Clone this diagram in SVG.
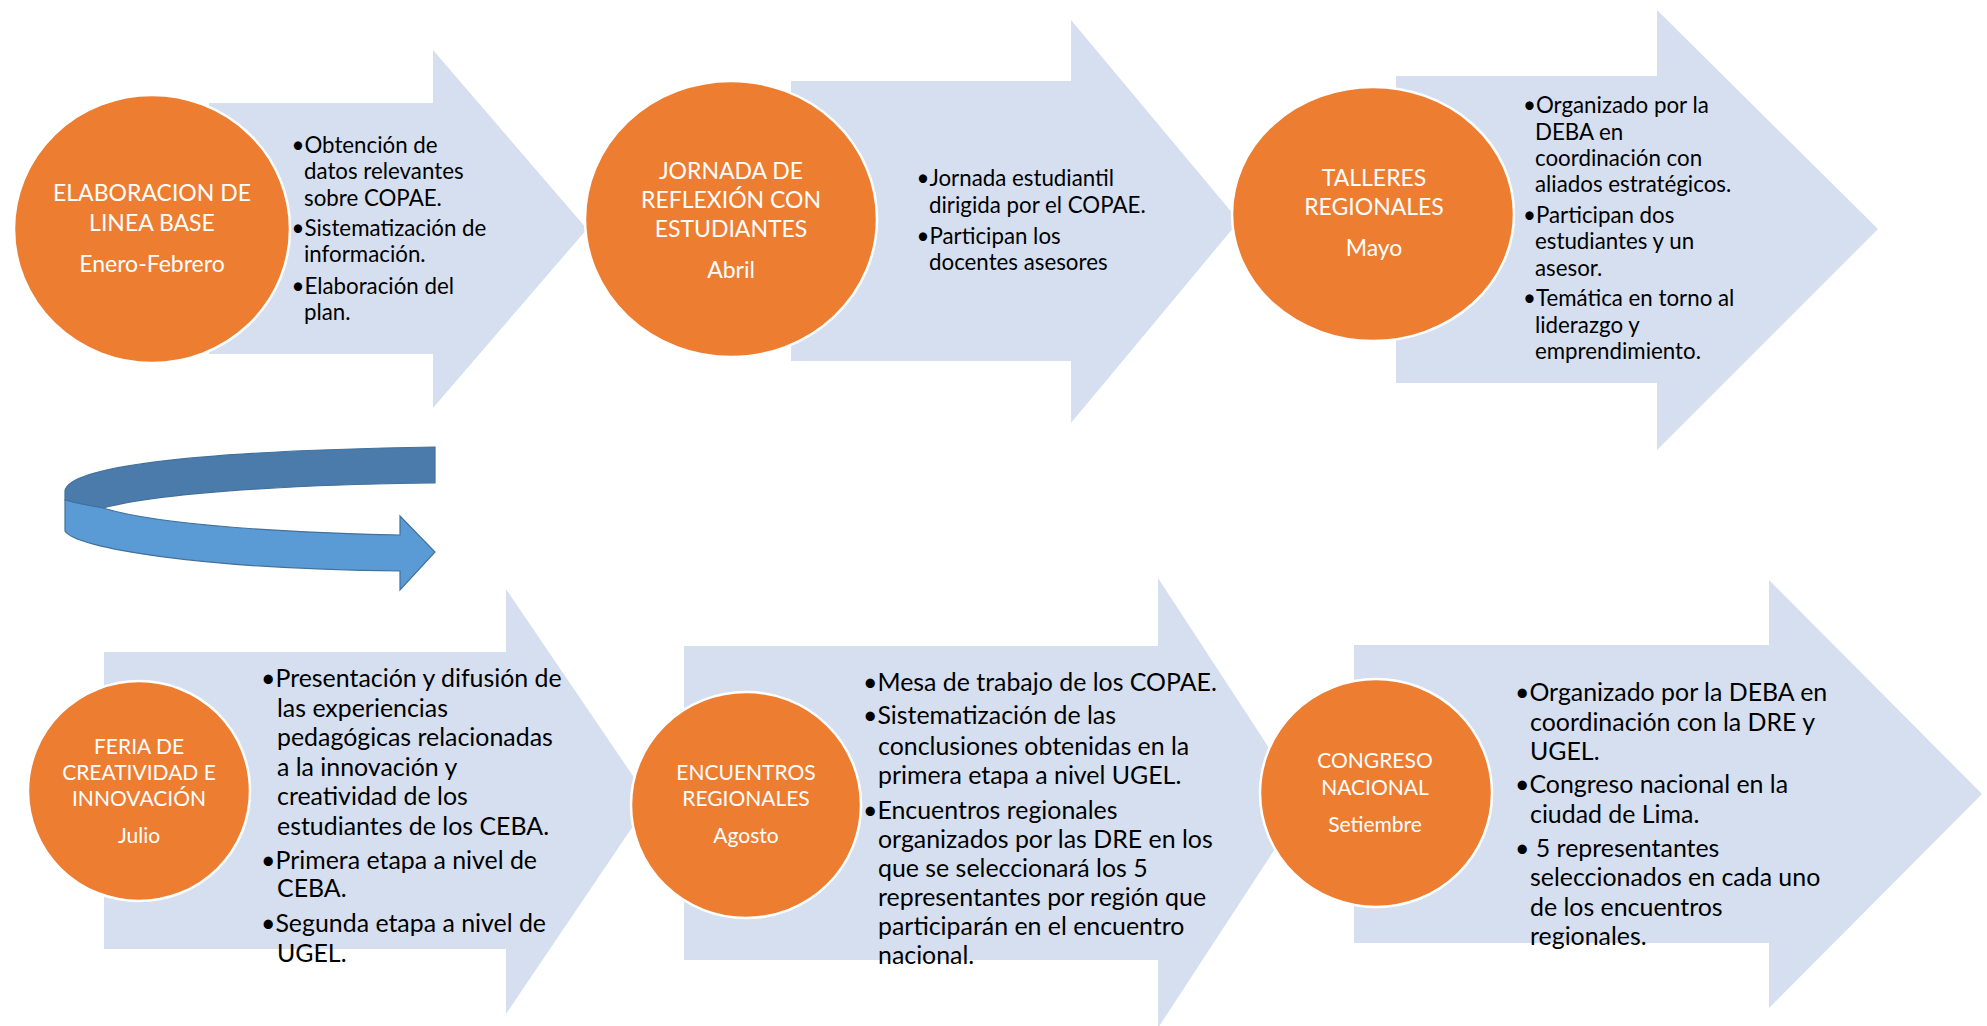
<svg xmlns="http://www.w3.org/2000/svg" width="1987" height="1026" viewBox="0 0 1987 1026">
<style>
.arr{fill:#D5DFEF}
.dot{fill:#ED7D31;stroke:#FFFFFF;stroke-width:2.5}
.ct{font-family:Lato,"Liberation Sans",sans-serif;font-weight:400;font-size:23px;fill:#FFFFFF;text-anchor:middle}
.ct2{font-size:21px}
.bt{font-family:Lato,"Liberation Sans",sans-serif;font-size:22.3px;fill:#000000}
.bt2{font-size:24.9px}
.cdark{fill:#4A7BAB;stroke:#41719C;stroke-width:1.2}
.clight{fill:#5B9BD5;stroke:#41719C;stroke-width:1.2}
</style>
<rect width="1987" height="1026" fill="#FFFFFF"/>

<g id="step1">
<polygon class="arr" points="209,103 433,103 433,50 587,229 433,408 433,354 209,354"/>
<ellipse class="dot" cx="152" cy="229" rx="138" ry="134"/>
<text class="ct"><tspan x="152" y="201">ELABORACION DE</tspan><tspan x="152" y="231">LINEA BASE</tspan><tspan x="152" y="272">Enero-Febrero</tspan></text>
<text class="bt"><tspan x="291.5" y="153">•Obtención de</tspan><tspan x="304" y="179">datos relevantes</tspan><tspan x="304" y="206">sobre COPAE.</tspan><tspan x="291.5" y="236">•Sistematización de</tspan><tspan x="304" y="262">información.</tspan><tspan x="291.5" y="294">•Elaboración del</tspan><tspan x="304" y="320">plan.</tspan></text>
</g>

<g id="step2">
<polygon class="arr" points="791,81 1071,81 1071,20 1239,221 1071,423 1071,361 791,361"/>
<ellipse class="dot" cx="731" cy="219" rx="146" ry="138"/>
<text class="ct"><tspan x="731" y="179">JORNADA DE</tspan><tspan x="731" y="208">REFLEXIÓN CON</tspan><tspan x="731" y="237">ESTUDIANTES</tspan><tspan x="731" y="278">Abril</tspan></text>
<text class="bt"><tspan x="916.5" y="186">•Jornada estudiantil</tspan><tspan x="929" y="213">dirigida por el COPAE.</tspan><tspan x="916.5" y="244">•Participan los</tspan><tspan x="929" y="270">docentes asesores</tspan></text>
</g>

<g id="step3">
<polygon class="arr" points="1396,76 1657,76 1657,10 1878,229 1657,450 1657,383 1396,383"/>
<ellipse class="dot" cx="1373" cy="214" rx="141" ry="127"/>
<text class="ct"><tspan x="1374" y="186">TALLERES</tspan><tspan x="1374" y="215">REGIONALES</tspan><tspan x="1374" y="256">Mayo</tspan></text>
<text class="bt"><tspan x="1523" y="113">•Organizado por la</tspan><tspan x="1535" y="140">DEBA en</tspan><tspan x="1535" y="166">coordinación con</tspan><tspan x="1535" y="192">aliados estratégicos.</tspan><tspan x="1523" y="223">•Participan dos</tspan><tspan x="1535" y="249">estudiantes y un</tspan><tspan x="1535" y="276">asesor.</tspan><tspan x="1523" y="306">•Temática en torno al</tspan><tspan x="1535" y="333">liderazgo y</tspan><tspan x="1535" y="359">emprendimiento.</tspan></text>
</g>

<g id="connectors">
<path class="cdark" d="M435,447 L435,483 C330,484 170,490 103,508 C85,505 72,502 65,500 L65,491 C68,468 180,451 435,447 Z"/>
<path class="clight" d="M65,500 L65,531 C75,548 200,569 400,571 L400,590 L435,552 L400,516 L400,535 C300,533 160,526 103,508 C85,505 72,502 65,500 Z"/>
</g>

<g id="step4">
<polygon class="arr" points="104,652 506,652 506,589 650,801 506,1014 506,949 104,949"/>
<ellipse class="dot" cx="139" cy="791" rx="111" ry="110"/>
<text class="ct ct2"><tspan x="139" y="754">FERIA DE</tspan><tspan x="139" y="780">CREATIVIDAD E</tspan><tspan x="139" y="806">INNOVACIÓN</tspan><tspan x="139" y="843">Julio</tspan></text>
<text class="bt bt2"><tspan x="261" y="687">•Presentación y difusión de</tspan><tspan x="277" y="717">las experiencias</tspan><tspan x="277" y="746">pedagógicas relacionadas</tspan><tspan x="277" y="776">a la innovación y</tspan><tspan x="277" y="805">creatividad de los</tspan><tspan x="277" y="835">estudiantes de los CEBA.</tspan><tspan x="261" y="869">•Primera etapa a nivel de</tspan><tspan x="277" y="897">CEBA.</tspan><tspan x="261" y="932">•Segunda etapa a nivel de</tspan><tspan x="277" y="962">UGEL.</tspan></text>
</g>

<g id="step5">
<polygon class="arr" points="684,646 1158,646 1158,578 1305,803 1158,1028 1158,960 684,960"/>
<ellipse class="dot" cx="746" cy="805" rx="115" ry="113"/>
<text class="ct ct2"><tspan x="746" y="780">ENCUENTROS</tspan><tspan x="746" y="806">REGIONALES</tspan><tspan x="746" y="843">Agosto</tspan></text>
<text class="bt bt2"><tspan x="863" y="691">•Mesa de trabajo de los COPAE.</tspan><tspan x="863" y="724">•Sistematización de las</tspan><tspan x="878" y="755">conclusiones obtenidas en la</tspan><tspan x="878" y="784">primera etapa a nivel UGEL.</tspan><tspan x="863" y="819">•Encuentros regionales</tspan><tspan x="878" y="848">organizados por las DRE en los</tspan><tspan x="878" y="877">que se seleccionará los 5</tspan><tspan x="878" y="906">representantes por región que</tspan><tspan x="878" y="935">participarán en el encuentro</tspan><tspan x="878" y="964">nacional.</tspan></text>
</g>

<g id="step6">
<polygon class="arr" points="1354,645 1769,645 1769,580 1982,794 1769,1008 1769,943 1354,943"/>
<ellipse class="dot" cx="1376" cy="793" rx="116" ry="114"/>
<text class="ct ct2"><tspan x="1375" y="768">CONGRESO</tspan><tspan x="1375" y="795">NACIONAL</tspan><tspan x="1375" y="832">Setiembre</tspan></text>
<text class="bt bt2"><tspan x="1515" y="701">•Organizado por la DEBA en</tspan><tspan x="1530" y="731">coordinación con la DRE y</tspan><tspan x="1530" y="760">UGEL.</tspan><tspan x="1515" y="793">•Congreso nacional en la</tspan><tspan x="1530" y="823">ciudad de Lima.</tspan><tspan x="1515" y="857">• 5 representantes</tspan><tspan x="1530" y="886">seleccionados en cada uno</tspan><tspan x="1530" y="916">de los encuentros</tspan><tspan x="1530" y="945">regionales.</tspan></text>
</g>
</svg>
